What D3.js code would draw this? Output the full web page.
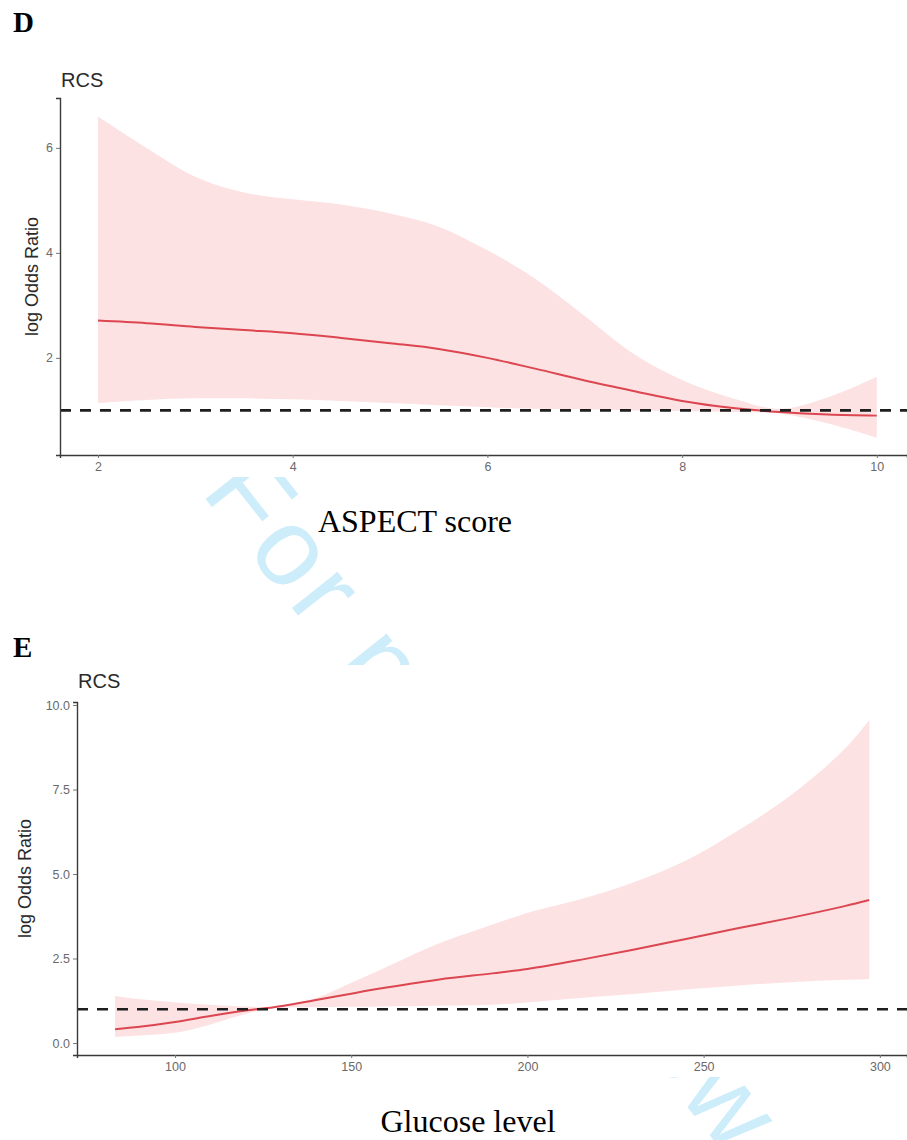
<!DOCTYPE html>
<html>
<head>
<meta charset="utf-8">
<script src="https://cdn.jsdelivr.net/npm/d3@7"></script>
<style>
  body { margin: 0; background: #ffffff; }
  svg { display: block; }
</style>
</head>
<body>
<svg id="fig"></svg>
<script>

// panel D - ASPECT score
var aspectX     = [2, 2.5, 3, 3.5, 4, 4.5, 5, 5.5, 6, 6.5, 7, 7.5, 8, 8.5, 9, 9.5, 10];
var aspectFit   = [2.71, 2.66, 2.59, 2.53, 2.47, 2.38, 2.28, 2.17, 2.0, 1.79, 1.57, 1.37, 1.18, 1.05, 0.97, 0.92, 0.90];
var aspectUpper = [6.6, 6.0, 5.45, 5.15, 5.02, 4.92, 4.75, 4.5, 4.05, 3.5, 2.8, 2.08, 1.58, 1.24, 1.03, 1.25, 1.64];
var aspectLower = [1.14, 1.2, 1.23, 1.23, 1.21, 1.18, 1.14, 1.1, 1.06, 1.03, 1.02, 1.0, 0.99, 0.97, 0.94, 0.75, 0.48];
var aspectXTicks = [2, 4, 6, 8, 10];
var aspectYTicks = [2, 4, 6];

// panel E - glucose level
var glucX     = [83, 90, 100, 110, 120, 128, 140, 150, 160, 175, 190, 200, 215, 230, 245, 260, 275, 290, 297];
var glucFit   = [0.41, 0.48, 0.62, 0.80, 0.96, 1.06, 1.27, 1.46, 1.64, 1.88, 2.06, 2.19, 2.46, 2.76, 3.08, 3.40, 3.71, 4.05, 4.23];
var glucUpper = [1.39, 1.3, 1.2, 1.13, 1.08, 1.07, 1.33, 1.78, 2.25, 2.95, 3.5, 3.85, 4.25, 4.75, 5.4, 6.3, 7.35, 8.7, 9.56];
var glucLower = [0.18, 0.22, 0.3, 0.55, 0.86, 1.03, 1.06, 1.07, 1.08, 1.1, 1.13, 1.2, 1.33, 1.45, 1.58, 1.7, 1.8, 1.87, 1.89];
var glucXTicks = [100, 150, 200, 250, 300];
var glucYTicks = [0, 2.5, 5, 7.5, 10];

var refLine = 1;

var width = 907, height = 1140;

var svg = d3.select("#fig")
  .attr("width", width)
  .attr("height", height)
  .style("background", "#ffffff");

// watermark behind the chart images
svg.append("text")
  .attr("transform", "translate(200,492) rotate(51.6)")
  .attr("font-family", "Liberation Sans, Arial, sans-serif")
  .attr("font-size", 110)
  .attr("letter-spacing", 6)
  .attr("fill", "#cdedfb")
  .text("For peer review");

// white image areas that hide the watermark
svg.append("rect").attr("x", 15).attr("y", 55).attr("width", 892).attr("height", 422).attr("fill", "#ffffff");
svg.append("rect").attr("x", 10).attr("y", 665).attr("width", 897).attr("height", 412).attr("fill", "#ffffff");

function drawPanel(opt) {
  var g = svg.append("g");

  var x = d3.scaleLinear().domain(opt.xDomain).range([opt.left, width]);
  var y = d3.scaleLinear().domain(opt.yDomain).range([opt.bottom, opt.top]);

  var rows = opt.xs.map(function (d, i) {
    return { x: d, fit: opt.fit[i], lo: opt.lower[i], hi: opt.upper[i] };
  });

  g.append("path")
    .datum(rows)
    .attr("fill", "#fde2e3")
    .attr("d", d3.area()
      .curve(d3.curveCatmullRom.alpha(0.5))
      .x(function (d) { return x(d.x); })
      .y0(function (d) { return y(d.lo); })
      .y1(function (d) { return y(d.hi); }));

  g.append("path")
    .datum(rows)
    .attr("fill", "none")
    .attr("stroke", "#db4650")
    .attr("stroke-width", 2)
    .attr("d", d3.line()
      .curve(d3.curveCatmullRom.alpha(0.5))
      .x(function (d) { return x(d.x); })
      .y(function (d) { return y(d.fit); }));

  g.append("line")
    .attr("x1", opt.left).attr("x2", width)
    .attr("y1", y(refLine)).attr("y2", y(refLine))
    .attr("stroke", "#1e1e1e")
    .attr("stroke-width", 2.6)
    .attr("stroke-dasharray", "11,9");

  var xAxis = g.append("g")
    .attr("transform", "translate(0," + opt.bottom + ")")
    .call(d3.axisBottom(x).tickValues(opt.xTicks).tickFormat(opt.xFormat).tickSizeOuter(0).tickSize(3).tickPadding(4));

  var yAxis = g.append("g")
    .attr("transform", "translate(" + opt.left + ",0)")
    .call(d3.axisLeft(y).tickValues(opt.yTicks).tickFormat(opt.yFormat).tickSizeOuter(0).tickSize(4).tickPadding(3));

  [xAxis, yAxis].forEach(function (a) {
    a.select(".domain").attr("stroke", "#3a3a3a").attr("stroke-width", 1.4);
    a.selectAll(".tick line").attr("stroke", "#777");
    a.selectAll(".tick text")
      .attr("fill", "#6a6a6a")
      .attr("font-family", "Liberation Sans, Arial, sans-serif")
      .attr("font-size", 12.5);
  });

  g.append("text")
    .attr("x", opt.left + 1)
    .attr("y", opt.titleY)
    .attr("font-family", "Liberation Sans, Arial, sans-serif")
    .attr("font-size", 20)
    .attr("fill", "#2a2a2a")
    .text("RCS");

  g.append("text")
    .attr("transform", "translate(" + opt.yTitleX + "," + ((opt.top + opt.bottom) / 2) + ") rotate(-90)")
    .attr("text-anchor", "middle")
    .attr("font-family", "Liberation Sans, Arial, sans-serif")
    .attr("font-size", 18)
    .attr("fill", "#2a2a2a")
    .text("log Odds Ratio");

  svg.append("text")
    .attr("x", 13)
    .attr("y", opt.letterY)
    .attr("font-family", "Liberation Serif, Times New Roman, serif")
    .attr("font-weight", "bold")
    .attr("font-size", 29)
    .attr("fill", "#000")
    .text(opt.letter);

  svg.append("text")
    .attr("x", opt.captionX)
    .attr("y", opt.captionY)
    .attr("text-anchor", "middle")
    .attr("font-family", "Liberation Serif, Times New Roman, serif")
    .attr("font-size", 32)
    .attr("fill", "#000")
    .text(opt.caption);
}

drawPanel({
  xs: aspectX, fit: aspectFit, upper: aspectUpper, lower: aspectLower,
  xTicks: aspectXTicks, yTicks: aspectYTicks,
  xFormat: d3.format("d"), yFormat: d3.format("d"),
  xDomain: [1.61, 10.31], yDomain: [0.15, 6.95],
  left: 60, top: 98, bottom: 455,
  titleY: 87, yTitleX: 38,
  letter: "D", letterY: 32,
  caption: "ASPECT score", captionX: 415, captionY: 532
});

drawPanel({
  xs: glucX, fit: glucFit, upper: glucUpper, lower: glucLower,
  xTicks: glucXTicks, yTicks: glucYTicks,
  xFormat: d3.format("d"), yFormat: d3.format(".1f"),
  xDomain: [72.2, 307.7], yDomain: [-0.355, 10.09],
  left: 77, top: 702, bottom: 1055,
  titleY: 688, yTitleX: 31,
  letter: "E", letterY: 657,
  caption: "Glucose level", captionX: 468, captionY: 1132
});

</script>
</body>
</html>
